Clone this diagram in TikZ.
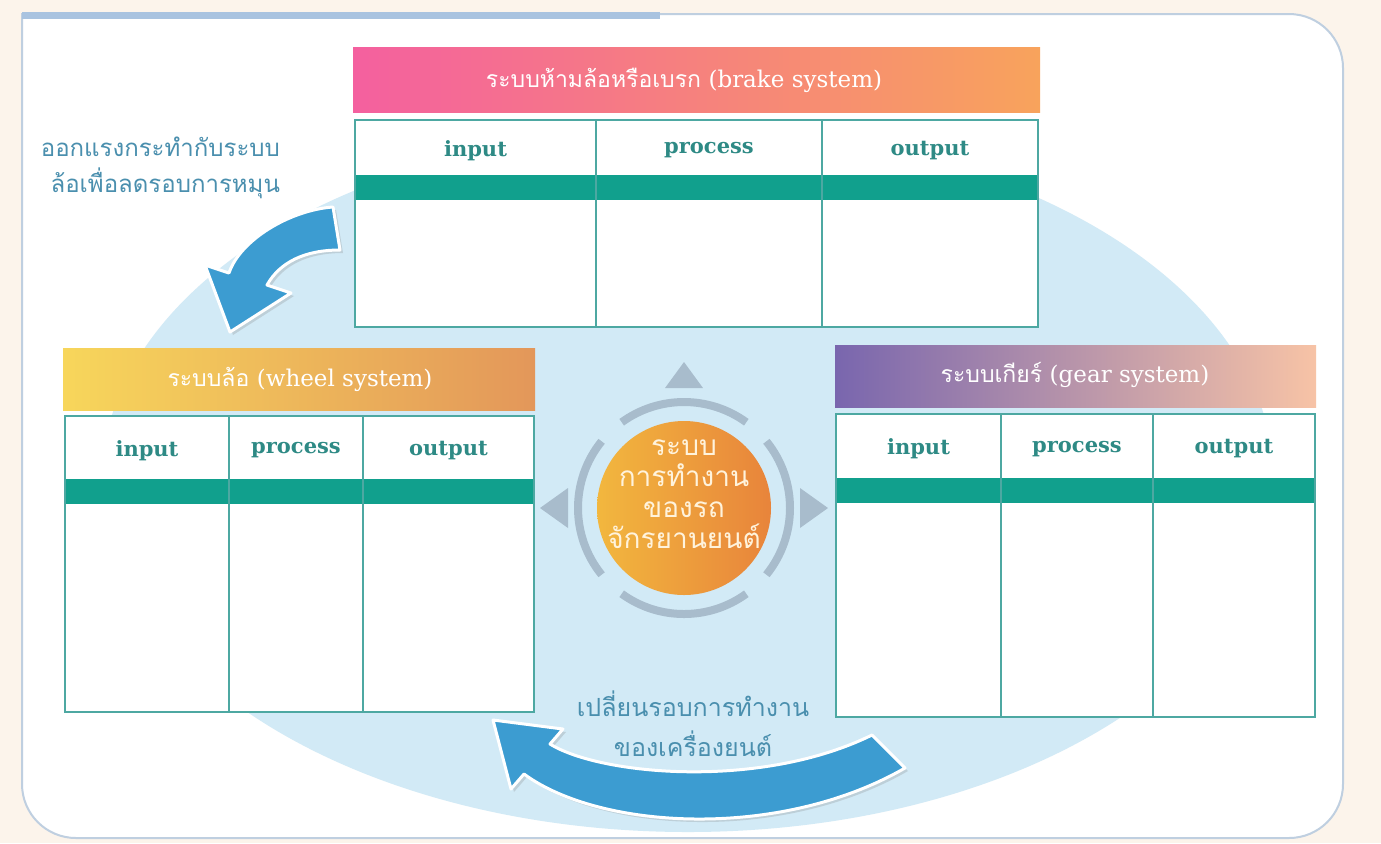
\documentclass[tikz,border=0pt]{standalone}
\usepackage{fontspec}
\newfontfamily\thai[Script=Thai]{Loma}
\newfontfamily\lat{DejaVu Serif}
\usetikzlibrary{shadows}
\definecolor{pagebg}{HTML}{FCF4EB}
\definecolor{framec}{HTML}{BFCFE0}
\definecolor{topbar}{HTML}{A9C3E0}
\definecolor{ellc}{HTML}{D2EAF6}
\definecolor{bandc}{HTML}{11A08D}
\definecolor{tblc}{HTML}{4DA8A2}
\definecolor{hdrtxt}{HTML}{2E8A85}
\definecolor{bluetxt}{HTML}{4A8FAE}
\definecolor{arrowc}{HTML}{3C9CD1}
\definecolor{ringc}{HTML}{A8BCCC}
\definecolor{brA}{HTML}{F4609F}
\definecolor{brB}{HTML}{F6827A}
\definecolor{brC}{HTML}{F8A35C}
\definecolor{whA}{HTML}{F7D65B}
\definecolor{whB}{HTML}{EDB556}
\definecolor{whC}{HTML}{E3975A}
\definecolor{geA}{HTML}{7966AE}
\definecolor{geB}{HTML}{C98DA3}
\definecolor{geC}{HTML}{F7C3A6}
\definecolor{coA}{HTML}{F2B73E}
\definecolor{coB}{HTML}{E8843B}
\definecolor{cotxt}{HTML}{FFF3DC}
\tikzset{
  tbl/.style={draw=tblc, line width=1pt},
  hdr/.style={text=hdrtxt, font=\lat\bfseries\fontsize{10.5}{13}\selectfont},
  titletxt/.style={text=white, font=\fontsize{11.5}{13}\selectfont},
  note/.style={text=bluetxt, font=\thai\fontsize{12}{18}\selectfont},
  bigarrow/.style={fill=arrowc, draw=white, line width=1.5pt, line join=round,
     drop shadow={opacity=0.25, shadow xshift=1.5pt, shadow yshift=-1.5pt}},
  ringarc/.style={draw=ringc, line width=4pt},
  ringtri/.style={fill=ringc}
}
\newcommand\SysTable[8]{%
  \fill[white] (#2,#3) rectangle (#4,#5);
  \fill[bandc] (#2,#8) rectangle (#4,#8+25);
  \draw[tbl] (#2,#3) rectangle (#4,#5);
  \draw[tbl] (#6,#3) -- (#6,#5);
  \draw[tbl] (#7,#3) -- (#7,#5);
  \node[hdr] (#1-in) at ({(#2+#6)/2},{(#3+#8)/2+3}) {input};
  \node[hdr] (#1-pr) at ({(#6+#7)/2},{(#3+#8)/2+3}) {process};
  \node[hdr] (#1-out) at ({(#7+#4)/2},{(#3+#8)/2+3}) {output};
}
\begin{document}
\begin{tikzpicture}[x=0.5pt,y=-0.5pt]
\useasboundingbox (0,0) rectangle (1381,843);
\fill[pagebg] (0,0) rectangle (1381,843);
% frame
\draw[framec, line width=1pt, fill=white] (22,14) [rounded corners=27pt] -- (1343,14) -- (1343,838) -- (22,838) [sharp corners] -- cycle;
\fill[topbar] (22,12) rectangle (660,19);
% big ellipse
\fill[ellc] (688,480) ellipse [x radius=293pt, y radius=176pt];

% headers
\shade[left color=brA, middle color=brB, right color=brC] (353,47) rectangle (1040,112);
\node[titletxt] (brake-title) at (684,80) {{\thai ระบบห้ามล้อหรือเบรก} {\lat (brake system)}};
\shade[left color=whA, middle color=whB, right color=whC] (63,348) rectangle (535,410);
\node[titletxt] (wheel-title) at (300,379) {{\thai ระบบล้อ} {\lat (wheel system)}};
\shade[left color=geA, middle color=geB, right color=geC] (835,345) rectangle (1316,407);
\node[titletxt] (gear-title) at (1075,375) {{\thai ระบบเกียร์} {\lat (gear system)}};

% tables
\SysTable{brake}{355}{120}{1038}{327}{596}{822}{175}
\SysTable{wheel}{65}{416}{534}{712}{229}{363}{479}
\SysTable{gear}{836}{414}{1315}{717}{1001}{1153}{478}

% centre
\node[circle, minimum size=87pt, inner sep=0pt, left color=coA, right color=coB] (core) at (684,508) {};
\node[text=cotxt, font=\thai\fontsize{14}{15.5}\selectfont, align=center] (core-txt) at (684,494) {ระบบ\\การทำงาน\\ของรถ\\จักรยานยนต์};
\begin{scope}[shift={(core.center)}, x=1pt, y=1pt]
  \draw[ringarc] (54:53) arc[start angle=54, end angle=126, radius=53];
  \draw[ringarc] (141:53) arc[start angle=141, end angle=219, radius=53];
  \draw[ringarc] (234:53) arc[start angle=234, end angle=306, radius=53];
  \draw[ringarc] (321:53) arc[start angle=321, end angle=399, radius=53];
  \fill[ringtri] (0,73) -- (-9.5,60) -- (9.5,60) -- cycle;
  \fill[ringtri] (-72,0) -- (-58,10) -- (-58,-10) -- cycle;
  \fill[ringtri] (72,0) -- (58,10) -- (58,-10) -- cycle;
\end{scope}

% notes
\node[note, align=right, anchor=east] (note1) at (287,168) {ออกแรงกระทำกับระบบ\\ล้อเพื่อลดรอบการหมุน};
\node[note, align=center, font=\thai\fontsize{12.5}{20}\selectfont] (note2) at (693,724) {เปลี่ยนรอบการทำงาน\\ของเครื่องยนต์};

% arrows
\path[bigarrow] (333,207) .. controls (290,210) and (240,240) .. (229,273) -- (205,265) -- (230,332) -- (291,293) -- (267,285) .. controls (280,262) and (305,250) .. (340,250) -- cycle;
\path[bigarrow] (872,735) .. controls (760,790) and (600,775) .. (550,744) -- (563,729) -- (493,720) -- (511,789) -- (524,774) .. controls (600,830) and (780,840) .. (905,768) -- cycle;
\end{tikzpicture}
\end{document}
